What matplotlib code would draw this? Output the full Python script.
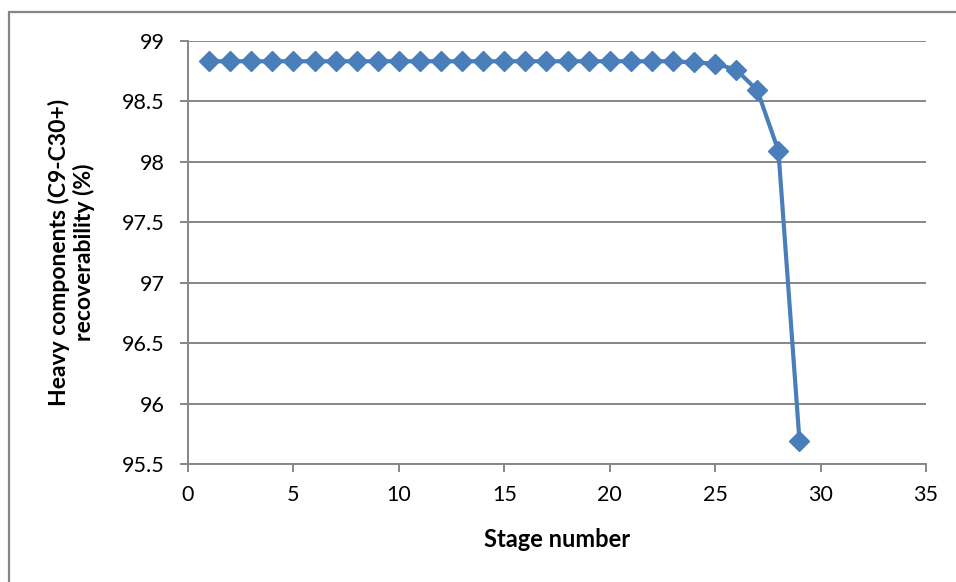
import matplotlib
matplotlib.use("Agg")
import matplotlib.pyplot as plt
from matplotlib.patches import Rectangle

plt.rcParams['font.family'] = ['Lato', 'DejaVu Sans']

# Recoverability of heavy components per stage
stages = list(range(1, 30))
recovery = [98.83] * 23 + [98.82, 98.81, 98.76, 98.59, 98.09, 95.69]

x_ticks = [0, 5, 10, 15, 20, 25, 30, 35]
y_ticks = [95.5, 96, 96.5, 97, 97.5, 98, 98.5, 99]
y_tick_labels = ['95.5', '96', '96.5', '97', '97.5', '98', '98.5', '99']

W, H = 956, 582
fig = plt.figure(figsize=(W / 100, H / 100), dpi=100)
ax = fig.add_axes([188 / W, 1 - 464 / H, (926 - 188) / W, (464 - 40.7) / H])

grid_col = '#868686'
line_col = '#4A7EBB'

ax.plot(stages, recovery, color=line_col, lw=3.0, marker='D', ms=10.5,
        markeredgecolor=line_col, markerfacecolor=line_col, zorder=3,
        solid_joinstyle='round')

ax.set_xlim(0, 35)
ax.set_ylim(95.5, 99)
ax.set_xticks(x_ticks)
ax.set_yticks(y_ticks)
ax.set_yticklabels(y_tick_labels)
ax.yaxis.grid(True, color=grid_col, lw=1.4)
ax.set_axisbelow(True)

for s in ('top', 'right'):
    ax.spines[s].set_visible(False)
for s in ('left', 'bottom'):
    ax.spines[s].set_color(grid_col)
    ax.spines[s].set_linewidth(1.4)

ax.tick_params(axis='both', direction='out', color=grid_col, width=1.4,
               length=6, labelsize=15.5, labelcolor='black')
ax.tick_params(axis='y', pad=11)
ax.tick_params(axis='x', pad=9)

ax.set_xlabel('Stage number', fontsize=17, fontweight='bold')
ax.set_ylabel('Heavy components (C9-C30+)\nrecoverability (%)', fontsize=16.5,
              fontweight='bold', linespacing=1.15)
ax.xaxis.set_label_coords(0.5, (464 - 528) / (464 - 40.7))
ax.yaxis.set_label_coords((95 - 188) / (926 - 188), 0.5)

# Chart frame
fig.patches.append(Rectangle((8.5 / W, -0.1), 1.2, 1 - 11.5 / H + 0.1,
                             transform=fig.transFigure, fill=False,
                             edgecolor=grid_col, lw=1.6))

fig.savefig('out.png', dpi=100, facecolor='white')
